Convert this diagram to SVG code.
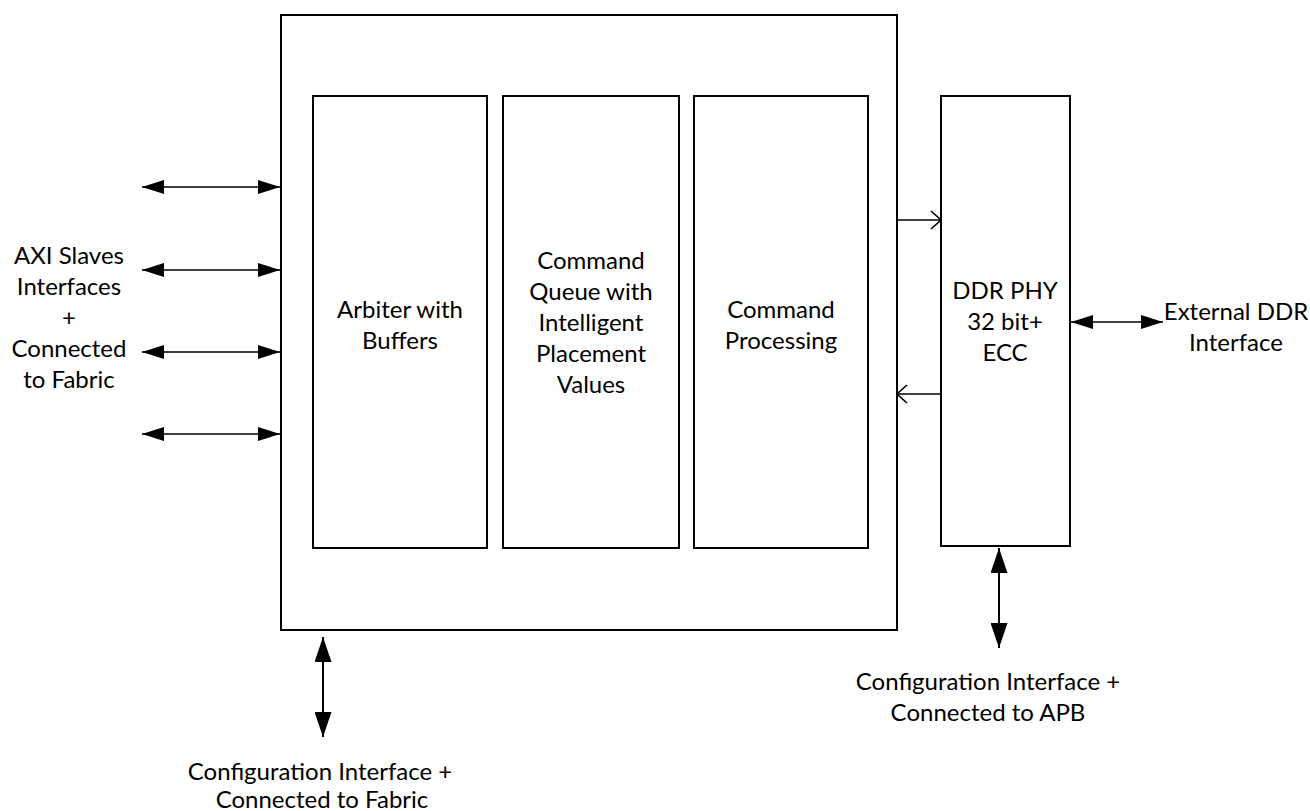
<svg xmlns="http://www.w3.org/2000/svg" width="1310" height="811" viewBox="0 0 1310 811">
<style>
  .box { fill: #ffffff; stroke: #000000; stroke-width: 2; }
  .lbl { font-family: "Lato", "Liberation Sans", sans-serif; font-size: 24px; fill: #000000; text-anchor: middle; }
  .conn { stroke: #000000; stroke-width: 1.6; fill: none; }
  .conn2 { stroke: #000000; stroke-width: 2; fill: none; }
</style>
<defs>
  <marker id="ah" viewBox="0 0 22 14" refX="22" refY="7" markerWidth="22" markerHeight="14" markerUnits="userSpaceOnUse" orient="auto-start-reverse">
    <path d="M0,0 L22,7 L0,14 z" fill="#000000"/>
  </marker>
  <marker id="ahL" viewBox="0 0 25 17" refX="25" refY="8.5" markerWidth="25" markerHeight="17" markerUnits="userSpaceOnUse" orient="auto-start-reverse">
    <path d="M0,0 L25,8.5 L0,17 z" fill="#000000"/>
  </marker>
  <marker id="open" viewBox="0 0 12 20" refX="11" refY="10" markerWidth="12" markerHeight="20" markerUnits="userSpaceOnUse" orient="auto">
    <path d="M1,1 L11,10 L1,19" fill="none" stroke="#000000" stroke-width="1.6"/>
  </marker>
</defs>
<rect width="1310" height="811" fill="#ffffff"/>

<g id="controller">
  <rect class="box" x="281" y="15" width="616" height="615"/>
</g>
<g id="arbiter">
  <rect class="box" x="313" y="96" width="174" height="452"/>
  <text class="lbl" x="400" y="318">Arbiter with</text>
  <text class="lbl" x="400" y="349">Buffers</text>
</g>
<g id="command-queue">
  <rect class="box" x="503" y="96" width="176" height="452"/>
  <text class="lbl" x="591" y="269">Command</text>
  <text class="lbl" x="591" y="300">Queue with</text>
  <text class="lbl" x="591" y="331">Intelligent</text>
  <text class="lbl" x="591" y="362">Placement</text>
  <text class="lbl" x="591" y="393">Values</text>
</g>
<g id="command-processing">
  <rect class="box" x="694" y="96" width="174" height="452"/>
  <text class="lbl" x="781" y="318">Command</text>
  <text class="lbl" x="781" y="349">Processing</text>
</g>
<g id="ddr-phy">
  <rect class="box" x="941" y="96" width="129" height="450"/>
  <text class="lbl" x="1005" y="299">DDR PHY</text>
  <text class="lbl" x="1005" y="330">32 bit+</text>
  <text class="lbl" x="1005" y="361">ECC</text>
</g>
<g id="axi-label">
  <text class="lbl" x="69" y="264">AXI Slaves</text>
  <text class="lbl" x="69" y="295">Interfaces</text>
  <text class="lbl" x="69" y="326">+</text>
  <text class="lbl" x="69" y="357">Connected</text>
  <text class="lbl" x="69" y="388">to Fabric</text>
</g>
<g id="external-label">
  <text class="lbl" x="1236" y="320">External DDR</text>
  <text class="lbl" x="1236" y="351">Interface</text>
</g>
<g id="config-fabric-label">
  <text class="lbl" x="320" y="780">Configuration Interface +</text>
  <text class="lbl" x="322" y="808">Connected to Fabric</text>
</g>
<g id="config-apb-label">
  <text class="lbl" x="988" y="690">Configuration Interface +</text>
  <text class="lbl" x="988" y="721">Connected to APB</text>
</g>

<g id="connectors">
  <line class="conn" x1="142" y1="187" x2="280" y2="187" marker-start="url(#ah)" marker-end="url(#ah)"/>
  <line class="conn" x1="142" y1="270" x2="280" y2="270" marker-start="url(#ah)" marker-end="url(#ah)"/>
  <line class="conn" x1="142" y1="352" x2="280" y2="352" marker-start="url(#ah)" marker-end="url(#ah)"/>
  <line class="conn" x1="142" y1="434" x2="280" y2="434" marker-start="url(#ah)" marker-end="url(#ah)"/>
  <line class="conn" x1="897" y1="220" x2="941" y2="220" marker-end="url(#open)"/>
  <line class="conn" x1="941" y1="394" x2="897" y2="394" marker-end="url(#open)"/>
  <line class="conn" x1="1071" y1="322" x2="1163" y2="322" marker-start="url(#ah)" marker-end="url(#ah)"/>
  <line class="conn2" x1="323" y1="637" x2="323" y2="737" marker-start="url(#ahL)" marker-end="url(#ahL)"/>
  <line class="conn2" x1="999" y1="548" x2="999" y2="648" marker-start="url(#ahL)" marker-end="url(#ahL)"/>
</g>
</svg>
